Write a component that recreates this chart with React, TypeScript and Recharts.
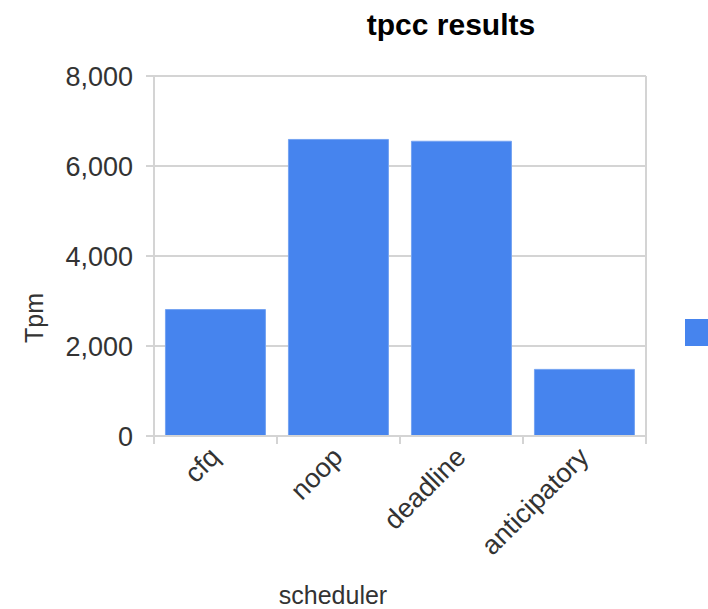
import { Bar, BarChart, CartesianGrid, Legend, XAxis, YAxis } from 'recharts';

const schedulers = ['cfq', 'noop', 'deadline', 'anticipatory'];
const tpmValues = [2810, 6590, 6550, 1480];
const yTicks = [0, 2000, 4000, 6000, 8000];

const chartData = schedulers.map((name, i) => ({ name, tpm: tpmValues[i] }));

const FONT = '"Liberation Sans", Arial, sans-serif';
const GRID = '#d4d4d4';
const BLUE = '#4684ee';
const TEXT = '#333333';

// category tick: label rotated -45deg, tick marks on the band edges
function CategoryTick(props: any) {
  const { x, y, payload, index, visibleTicksCount } = props;
  const half = payload?.offset ?? 0;
  const isLast = index === visibleTicksCount - 1;
  const ax = x - 8;
  const ay = y + 1;
  return (
    <g>
      <line x1={x - half} x2={x - half} y1={y - 8} y2={y} stroke={GRID} strokeWidth={2} />
      {isLast && <line x1={x + half} x2={x + half} y1={y - 8} y2={y} stroke={GRID} strokeWidth={2} />}
      <text
        x={ax}
        y={ay}
        transform={`rotate(-45, ${ax}, ${ay})`}
        textAnchor="end"
        dy="0.72em"
        fontSize={27}
        fill={TEXT}
        fontFamily={FONT}
      >
        {payload.value}
      </text>
    </g>
  );
}

function LegendContent({ payload }: any) {
  return (
    <div style={{ display: 'flex', alignItems: 'center', fontFamily: FONT, fontSize: 25, color: TEXT }}>
      {(payload ?? []).map((e: any) => (
        <span key={e.value} style={{ display: 'flex', alignItems: 'center', whiteSpace: 'nowrap' }}>
          <span style={{ display: 'inline-block', width: 27, height: 27, background: e.color, marginRight: 8 }} />
          <span>{e.value}</span>
        </span>
      ))}
    </div>
  );
}

export default function App() {
  return (
    <div style={{ position: 'absolute', left: 0, top: 0, width: 708, height: 609, overflow: 'hidden', background: '#fff' }}>
      <div
        style={{
          position: 'absolute',
          left: 301,
          top: 10,
          width: 300,
          textAlign: 'center',
          fontFamily: FONT,
          fontWeight: 'bold',
          fontSize: 30,
          lineHeight: '30px',
          color: '#000',
          zIndex: 2,
        }}
      >
        tpcc results
      </div>
      <BarChart
        width={708}
        height={609}
        data={chartData}
        margin={{ top: 76, right: 62, bottom: 0, left: 0 }}
        barCategoryGap="9.3%"
        style={{ fontFamily: FONT }}
      >
        <CartesianGrid
          stroke={GRID}
          strokeWidth={2}
          verticalCoordinatesGenerator={({ offset }: any) => [offset.left + offset.width]}
        />
        <XAxis
          dataKey="name"
          height={173}
          axisLine={{ stroke: GRID, strokeWidth: 2 }}
          tickLine={false}
          tickSize={8}
          tickMargin={0}
          interval={0}
          tick={<CategoryTick />}
          label={{
            value: 'scheduler',
            content: ({ viewBox, value }: any) => (
              <text
                x={viewBox.x + 179}
                y={viewBox.y + 168}
                textAnchor="middle"
                fontSize={25}
                fill={TEXT}
                fontFamily={FONT}
              >
                {value}
              </text>
            ),
          }}
        />
        <YAxis
          width={154}
          domain={[0, 8000]}
          ticks={yTicks}
          interval={0}
          tickFormatter={(v: number) => v.toLocaleString('en-US')}
          axisLine={{ stroke: GRID, strokeWidth: 2 }}
          tickLine={{ stroke: GRID, strokeWidth: 2 }}
          tickSize={8}
          tickMargin={13}
          tick={{ fill: TEXT, fontSize: 27 }}
          label={{
            value: 'Tpm',
            content: ({ viewBox, value }: any) => (
              <text
                x={viewBox.x + 43}
                y={viewBox.y + 242}
                transform={`rotate(-90, ${viewBox.x + 43}, ${viewBox.y + 242})`}
                textAnchor="middle"
                fontSize={25}
                fill={TEXT}
                fontFamily={FONT}
              >
                {value}
              </text>
            ),
          }}
        />
        <Legend
          layout="horizontal"
          align="center"
          verticalAlign="middle"
          content={<LegendContent />}
          wrapperStyle={{ left: 685, top: 318, width: 200, height: 27 }}
        />
        <Bar dataKey="tpm" name="Tpm" fill={BLUE} stroke="#74a3f2" strokeWidth={1} isAnimationActive={false} />
      </BarChart>
    </div>
  );
}
